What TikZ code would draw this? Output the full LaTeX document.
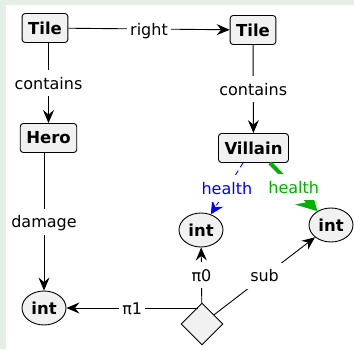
\documentclass[tikz,border=0pt]{standalone}
\usepackage{fontspec}
\setmainfont{DejaVu Sans}
\usetikzlibrary{arrows.meta, shapes.geometric}
\definecolor{pagegreen}{RGB}{230,239,230}
\definecolor{boxgray}{RGB}{241,241,241}
\definecolor{healthgreen}{RGB}{0,178,0}

\begin{document}
\begin{tikzpicture}[x=1pt, y=-1pt, line width=0.9pt,
    font=\fontsize{16pt}{19pt}\selectfont,
    >={Stealth[length=13pt, width=11pt, inset=4.5pt]}]
  \tikzstyle{typebox}=[draw, rounded corners=3pt, fill=boxgray, font=\fontsize{16.5pt}{19pt}\selectfont\bfseries, inner xsep=6pt, minimum height=29pt];
  \tikzstyle{valnode}=[draw, ellipse, fill=boxgray, font=\fontsize{16.5pt}{19pt}\selectfont\bfseries, inner sep=0pt, minimum width=44pt, minimum height=34pt];
  \tikzstyle{lbl}=[fill=white, inner xsep=3pt, inner ysep=6pt, text height=13pt, text depth=1pt];

  % page
  \fill[pagegreen] (0,0) rectangle (354,349);
  \fill[white] (6,5) rectangle (354,349);
  \useasboundingbox (0,0) rectangle (354,349);

  \node [typebox] at (45,28)      (Tile1)   {Tile};
  \node [typebox] at (253,30)     (Tile2)   {Tile};
  \node [typebox] at (48.5,138)   (Hero)    {Hero};
  \node [typebox] at (253.5,148)  (Villain) {Villain};
  \node [valnode] at (44,308)     (intL)    {int};
  \node [valnode] at (201,230)    (intM)    {int};
  \node [valnode] at (331,225)    (intR)    {int};
  \node [diamond, draw, fill=boxgray, minimum width=42pt, minimum height=42pt, inner sep=0pt] at (202,324) (pair) {};

  \path[->] (Tile1) edge node[lbl]{right} (Tile2);
  \path[->] (Tile1.south -| Hero.north) edge node[lbl]{contains} (Hero);
  \path[->] (Tile2) edge node[lbl]{contains} (Villain);
  \path[->] (Hero.south -| intL.north) edge node[lbl]{damage} (intL);

  \path[-{Stealth[length=13pt, width=13pt, inset=4.5pt]}, blue, dash pattern=on 5pt off 4pt] ([xshift=-10.5pt]Villain.south) edge node[lbl]{health} (intM);
  \path[-{Stealth[length=20pt, width=22pt, inset=7pt]}, healthgreen, line width=4pt] ([xshift=16.5pt]Villain.south) edge node[lbl]{health} (intR);

  \path[->] (pair.103 |- intL) edge node[lbl]{π1} (intL)
            (pair) edge node[lbl]{π0} (intM)
            (pair) edge node[lbl]{sub} (intR);
\end{tikzpicture}
\end{document}
